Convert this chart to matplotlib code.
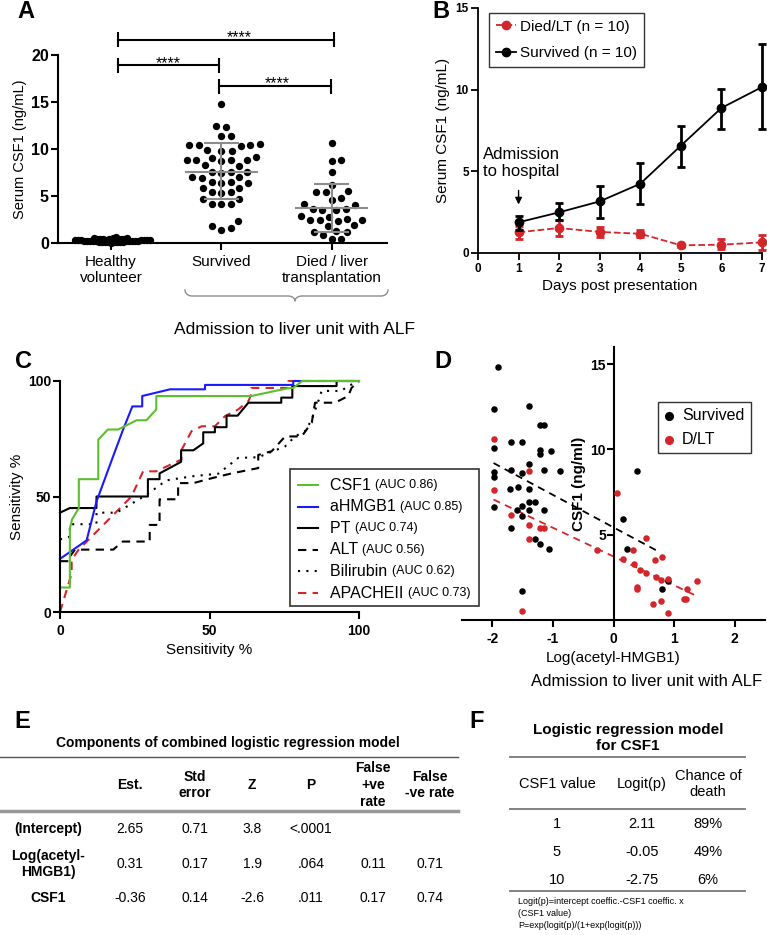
import numpy as np
import matplotlib
matplotlib.use("Agg")
import matplotlib.pyplot as plt
from matplotlib.patches import Rectangle

plt.rcParams["font.family"] = ["Liberation Sans", "DejaVu Sans"]

W, H = 767, 935
RED = "#d3262b"
GREEN = "#5cbf2e"
BLUE = "#1a1aff"
GREY = "#8c8c8c"

# ---- A: serum CSF1 at admission
groups_a = ["Healthy\nvolunteer", "Survived", "Died / liver\ntransplantation"]
healthy = [0.05, 0.08, 0.1, 0.1, 0.12, 0.12, 0.15, 0.15, 0.15, 0.18, 0.18, 0.2, 0.2,
           0.2, 0.22, 0.22, 0.25, 0.25, 0.25, 0.27, 0.28, 0.28, 0.3, 0.3, 0.3, 0.32,
           0.33, 0.35, 0.35, 0.36, 0.38, 0.4, 0.4, 0.42, 0.45, 0.45, 0.5, 0.5, 0.55, 0.6]
survived = [14.8, 12.5, 12.3, 11.4, 11.4, 10.5, 10.4, 10.4, 10.4, 10.3, 9.9, 9.8, 9.8,
            9.1, 9.0, 8.8, 8.8, 8.8, 8.8, 8.7, 8.3, 8.2, 7.6, 7.6, 7.6, 7.5, 7.0, 7.0,
            6.9, 6.5, 6.4, 6.4, 6.5, 5.9, 5.9, 5.4, 5.4, 5.3, 4.7, 4.7, 4.2, 4.2, 4.1,
            2.3, 1.8, 1.6, 1.4]
died = [10.6, 8.8, 8.7, 7.6, 6.2, 5.5, 5.4, 5.4, 4.8, 4.6, 4.1, 4.0, 3.6, 3.6, 3.5,
        3.5, 2.9, 2.8, 2.6, 2.5, 2.5, 2.4, 2.3, 1.9, 1.8, 1.3, 1.2, 1.2, 0.9, 0.4, 0.4]
mean_a = [7.6, 3.7]
sd_lo_a = [4.7, 1.2]
sd_hi_a = [10.6, 6.3]

# ---- B: time course
days = [1, 2, 3, 4, 5, 6, 7]
surv_mean = [1.88, 2.49, 3.16, 4.24, 6.57, 8.88, 10.16]
surv_lo = [1.43, 2.04, 2.14, 3.02, 5.27, 7.61, 7.59]
surv_hi = [2.24, 3.06, 4.12, 5.51, 7.80, 10.06, 12.82]
dlt_mean = [1.27, 1.53, 1.29, 1.18, 0.47, 0.51, 0.65]
dlt_lo = [0.86, 1.06, 0.98, 0.96, 0.38, 0.24, 0.20]
dlt_hi = [1.63, 2.00, 1.59, 1.43, 0.55, 0.86, 1.12]

# ---- C: ROC curves
roc_names = ["CSF1", "aHMGB1", "PT", "ALT", "Bilirubin", "APACHEII"]
roc_auc = ["(AUC 0.86)", "(AUC 0.85)", "(AUC 0.74)", "(AUC 0.56)", "(AUC 0.62)", "(AUC 0.73)"]
csf1_x = [0, 3.3, 3.3, 4, 6.3, 6.3, 12.8, 12.8, 16, 19.5, 25.6, 28.9, 32.2, 32.2, 64, 76, 78, 81, 100]
csf1_y = [10.6, 10.6, 36, 40, 45, 57.5, 57.5, 74.6, 79, 79, 83, 83, 87.7, 93.5, 93.5, 96.8, 97, 100, 100]
hmgb_x = [0, 8.9, 12.2, 18.4, 21.2, 24.2, 27.5, 27.5, 36.8, 48.5, 48.5, 78, 78, 100]
hmgb_y = [23, 31, 47.8, 69.6, 79.3, 89, 89, 93.5, 96.4, 96.4, 98.3, 98.3, 100, 100]
pt_x = [0, 3.3, 12.2, 12.2, 29.4, 29.4, 33.3, 33.3, 40.5, 40.5, 44.6, 47.9, 47.9, 51.8, 51.8,
        55.7, 55.7, 59.4, 63, 74, 74, 77.7, 77.7, 92.5, 92.5, 100]
pt_y = [43, 45, 45, 50, 50, 57.5, 57.5, 60, 65, 70, 70, 73, 77.8, 77.8, 80, 80, 85, 85, 90.6,
        90.6, 92.8, 92.8, 97.8, 97.8, 100, 100]
alt_x = [0, 3.3, 3.3, 5, 17.8, 21, 30, 30, 33.3, 33.3, 39.5, 39.5, 44.6, 51, 57.4, 66.3, 66.3,
         70.8, 75.3, 80.8, 84.2, 85.3, 92, 96.4, 97.5, 100]
alt_y = [22, 22, 24, 27, 27, 30.5, 30.5, 37.7, 37.7, 48.8, 48.8, 55.8, 55.8, 58, 60, 62.3, 68,
         69.6, 76, 76, 82, 90.6, 90.6, 93.5, 97, 100]
bili_x = [0, 3.3, 3.3, 12.2, 12.2, 18.9, 28.9, 35.6, 44, 53, 59.6, 66.3, 75.3, 78.6, 82, 84.2,
          86.4, 87.5, 94, 96.4, 100]
bili_y = [31.4, 32.6, 38, 38, 43, 43, 50.7, 57, 58.7, 59.9, 66.7, 67, 71.7, 76, 78.3, 83.3,
          91.3, 95.7, 95.7, 97.8, 100]
apache_x = [0, 3.9, 3.9, 6.1, 17.8, 23.9, 27.8, 32.2, 40.6, 40.7, 44, 47.4, 51.8, 55.2, 59.6,
            63, 64, 64, 76.4, 76.4, 100]
apache_y = [0, 16.7, 22.5, 26.8, 42, 50, 60.9, 60.9, 66, 70.3, 78.3, 80.4, 80.4, 84.8, 87.7,
            91.3, 94.2, 97, 97, 100, 100]

# ---- D: CSF1 vs log(acetyl-HMGB1)
d_surv_x = [-1.91, -1.98, -1.39, -1.98, -1.69, -1.51, -1.21, -1.14, -1.22, -1.21, -1.03, -1.98,
            -1.98, -1.69, -1.51, -1.39, -1.14, -0.89, -1.70, -1.58, -1.39, -1.98, -1.51, -1.59,
            -1.51, -1.39, -1.29, -1.39, -1.14, -1.69, -1.29, -1.21, -1.07, -1.51, 0.38, 0.15,
            0.23, 0.80, 0.90]
d_surv_y = [14.85, 12.34, 12.53, 10.1, 10.43, 10.43, 11.44, 11.44, 9.94, 9.7, 9.9, 8.67, 8.38,
            8.81, 8.6, 9.12, 8.81, 8.71, 7.7, 7.8, 7.7, 6.63, 6.69, 6.43, 6.1, 6.92, 6.92, 6.43,
            6.43, 5.42, 4.72, 4.44, 4.19, 1.71, 8.73, 5.9, 4.19, 1.81, 2.28]
d_dlt_x = [-1.98, -1.39, -1.98, -1.69, -1.39, -1.21, -1.14, -1.39, -0.27, 0.05, -1.51, 0.53,
           0.33, 0.15, 0.34, 0.68, 0.80, 0.44, 0.54, 0.70, 0.78, 0.90, 1.37, 1.22, 1.16, 1.19,
           0.38, 0.39, 0.65, 0.79, 0.90]
d_dlt_y = [10.6, 8.73, 7.64, 6.14, 5.56, 5.4, 5.4, 4.72, 4.13, 7.45, 0.55, 4.81, 4.09, 3.6,
           3.31, 3.51, 3.70, 2.92, 2.73, 2.5, 2.34, 2.4, 2.3, 1.81, 1.23, 1.23, 1.95, 1.8, 0.92,
           1.11, 0.39]
surv_fit_x = [-1.98, 0.75]
surv_fit_y = [9.2, 4.0]
dlt_fit_x = [-1.98, 1.34]
dlt_fit_y = [7.06, 1.46]

# ---- E / F tables
e_headers = ["Est.", "Std\nerror", "Z", "P", "False\n+ve\nrate", "False\n-ve rate"]
e_rows = ["(Intercept)", "Log(acetyl-\nHMGB1)", "CSF1"]
e_est = ["2.65", "0.31", "-0.36"]
e_se = ["0.71", "0.17", "0.14"]
e_z = ["3.8", "1.9", "-2.6"]
e_p = ["<.0001", ".064", ".011"]
e_fp = ["", "0.11", "0.17"]
e_fn = ["", "0.71", "0.74"]
f_headers = ["CSF1 value", "Logit(p)", "Chance of\ndeath"]
f_csf1 = ["1", "5", "10"]
f_logit = ["2.11", "-0.05", "-2.75"]
f_chance = ["89%", "49%", "6%"]


def px_axes(fig, left, top, right, bottom):
    ax = fig.add_axes([left / W, 1 - bottom / H, (right - left) / W, (bottom - top) / H])
    ax.patch.set_visible(False)
    return ax


def style(ax, lw=1.5, size=11):
    for s in ["top", "right"]:
        ax.spines[s].set_visible(False)
    for s in ["left", "bottom"]:
        ax.spines[s].set_linewidth(lw)
    ax.tick_params(width=lw, length=5, labelsize=size)
    ax.tick_params(axis="y", pad=1.5)


def swarm(values, dmin, sx, sy):
    # simple beeswarm in pixel space
    vals = np.asarray(values, float)
    offs = np.zeros(len(vals))
    placed = []
    cands = [0.0]
    for k in range(1, 200):
        cands += [k * 0.5, -k * 0.5]
    for i in np.argsort(vals):
        y = vals[i] * sy
        for c in cands:
            if all((c - px) ** 2 + (y - py) ** 2 >= dmin ** 2 for px, py in placed):
                break
        placed.append((c, y))
        offs[i] = c / sx
    return offs


fig = plt.figure(figsize=(W / 100, H / 100), dpi=100)
canvas = fig.add_axes([0, 0, 1, 1])
canvas.set_xlim(0, W)
canvas.set_ylim(H, 0)
canvas.axis("off")

# ---------------- A
axA = px_axes(fig, 58, 55, 387, 243)
axA.set_xlim(-0.48, 2.5)
axA.set_ylim(0, 20)
style(axA, size=11.5)
axA.set_yticks([0, 5, 10, 15, 20])
axA.set_yticklabels([0, 5, 10, 15, 20], fontweight="bold")
axA.set_xticks([0, 1, 2])
axA.set_xticklabels(groups_a, fontsize=11)
axA.set_ylabel("Serum CSF1 (ng/mL)", fontsize=10.5, labelpad=3)
sx, sy = 329 / 2.98, 188 / 20
for i, (vals, dmin) in enumerate([(healthy, 2.6), (survived, 9.5), (died, 9.5)]):
    axA.scatter(i + swarm(vals, dmin, sx, sy), vals, s=28, color="black", zorder=3,
                clip_on=False, linewidths=0)
for i in range(2):
    g = i + 1
    axA.hlines(mean_a[i], g - 0.33, g + 0.33, color=GREY, lw=1.5, zorder=4)
    axA.vlines(g, sd_lo_a[i], sd_hi_a[i], color=GREY, lw=1.5, zorder=4)
    axA.hlines([sd_lo_a[i], sd_hi_a[i]], g - 0.16, g + 0.16, color=GREY, lw=1.5, zorder=4)
for x1, x2, y, xs in [(0.066, 2.02, 21.6, 1.16), (0.066, 0.98, 18.9, 0.52), (0.98, 1.99, 16.7, 1.51)]:
    axA.plot([x1, x2], [y, y], color="black", lw=1.5, clip_on=False)
    axA.vlines([x1, x2], y - 0.8, y + 0.8, color="black", lw=1.5, clip_on=False)
    axA.text(xs, y - 0.25, "****", ha="center", va="baseline", fontsize=11.5)

# curly brace under Survived / Died
bx1, bx2, bm = 185, 388, 295
t = np.linspace(0, np.pi / 2, 10)
r = 7
left_end = np.c_[bx1 + r * (1 - np.cos(t)), 290 + 6 * np.sin(t)]
mid_l = np.c_[bm - r + r * np.sin(t), 296 + 5 * (1 - np.cos(t))]
mid_r = np.c_[2 * bm - mid_l[::-1, 0], mid_l[::-1, 1]]
right_end = np.c_[2 * bx2 - 2 * bx2 + bx2 - r * (1 - np.cos(t[::-1])), 290 + 6 * np.sin(t[::-1])]
brace = np.vstack([left_end, mid_l, mid_r, right_end])
canvas.plot(brace[:, 0], brace[:, 1], color=GREY, lw=1)
canvas.text(295, 330, "Admission to liver unit with ALF", ha="center", va="center", fontsize=12.5)

# ---------------- B
axB = px_axes(fig, 478, 8, 762, 253)
axB.set_xlim(0, 7)
axB.set_ylim(0, 15)
style(axB, lw=1.3, size=8.5)
axB.tick_params(axis="x", pad=2)
axB.set_xticks([0] + days)
axB.set_yticks([0, 5, 10, 15])
axB.set_yticklabels([0, 5, 10, 15], fontweight="bold")
axB.set_xticklabels([0] + days, fontweight="bold")
axB.set_ylabel("Serum CSF1 (ng/mL)", fontsize=11, labelpad=4)
axB.set_xlabel("Days post presentation", fontsize=11, labelpad=3)
m = np.array(dlt_mean)
axB.errorbar(days, m, yerr=[m - np.array(dlt_lo), np.array(dlt_hi) - m], fmt="none",
             ecolor=RED, elinewidth=2, capsize=3, capthick=2, clip_on=False)
axB.plot(days, dlt_mean, "--o", color=RED, lw=1.3, ms=6, label="Died/LT (n = 10)", clip_on=False)
m = np.array(surv_mean)
axB.errorbar(days, m, yerr=[m - np.array(surv_lo), np.array(surv_hi) - m], fmt="none",
             ecolor="black", elinewidth=2, capsize=3, capthick=2, clip_on=False)
axB.plot(days, surv_mean, "-o", color="black", lw=1.3, ms=6, label="Survived (n = 10)", clip_on=False)
leg = axB.legend(loc="upper left", bbox_to_anchor=(0.039, 0.98), borderaxespad=0, fontsize=11,
                 frameon=True, fancybox=False, edgecolor="black", handlelength=1.3,
                 handletextpad=0.3, borderpad=0.45, labelspacing=0.8)
leg.get_frame().set_linewidth(1.0)
axB.annotate("", xy=(1, 2.8), xytext=(1, 4.0),
             arrowprops=dict(arrowstyle="-|>", color="black", lw=1, mutation_scale=10))
axB.text(0.13, 5.5, "Admission\nto hospital", ha="left", va="center", fontsize=12, linespacing=1.15)

# ---------------- C
axC = px_axes(fig, 60, 381, 359, 612)
axC.set_xlim(0, 100)
axC.set_ylim(0, 100)
style(axC, size=10)
axC.set_xticks([0, 50, 100])
axC.set_yticks([0, 50, 100])
axC.set_xticklabels([0, 50, 100], fontweight="bold")
axC.set_yticklabels([0, 50, 100], fontweight="bold")
axC.set_xlabel("Sensitivity %", fontsize=11)
axC.set_ylabel("Sensitivity %", fontsize=11, labelpad=3)
roc_styles = [
    (csf1_x, csf1_y, dict(color=GREEN, ls="-")),
    (hmgb_x, hmgb_y, dict(color=BLUE, ls="-")),
    (pt_x, pt_y, dict(color="black", ls="-")),
    (alt_x, alt_y, dict(color="black", ls=(0, (4, 3)))),
    (bili_x, bili_y, dict(color="black", ls=(0, (1, 3)))),
    (apache_x, apache_y, dict(color=RED, ls=(0, (4, 3)))),
]
for xs, ys, kw in roc_styles[::-1]:
    axC.plot(xs, ys, lw=1.5, clip_on=False, **kw)
# legend box drawn by hand (two font sizes)
lx0, lx1 = (290 - 60) / 299, (479 - 60) / 299
ly0, ly1 = (612 - 606) / 231, (612 - 469) / 231
axC.add_patch(Rectangle((lx0, ly0), lx1 - lx0, ly1 - ly0, transform=axC.transAxes,
                        facecolor="white", edgecolor="#333333", lw=1.2, clip_on=False, zorder=5))
for k, (name, auc, (xs, ys, kw)) in enumerate(zip(roc_names, roc_auc, roc_styles)):
    yy = (612 - (485 + 21.6 * k)) / 231
    axC.plot([(298 - 60) / 299, (318 - 60) / 299], [yy, yy], transform=axC.transAxes, lw=1.5,
             clip_on=False, zorder=6, **kw)
    tx = axC.text((330 - 60) / 299, yy, name + " ", transform=axC.transAxes, va="center",
                  fontsize=11.5, zorder=6)
    axC.annotate(auc, xy=(1, 0.5), xycoords=tx, va="center", fontsize=9, zorder=6)

# ---------------- D
axD = px_axes(fig, 462, 347, 765, 620)
axD.set_xlim(-2.5, 2.5)
axD.set_ylim(0, 16)
style(axD, size=10)
axD.tick_params(axis="y", pad=0.5)
axD.spines["left"].set_position(("data", 0))
axD.set_xticks([-2, -1, 0, 1, 2])
axD.set_xticklabels([-2, -1, 0, 1, 2], fontweight="bold")
axD.set_yticks([5, 10, 15])
axD.set_yticklabels([5, 10, 15], fontweight="bold")
axD.set_xlabel("Log(acetyl-HMGB1)", fontsize=11)
axD.set_ylabel("CSF1 (ng/ml)", fontsize=11, fontweight="bold", labelpad=3)
axD.scatter(d_surv_x, d_surv_y, s=22, color="black", linewidths=0, label="Survived", zorder=3)
axD.scatter(d_dlt_x, d_dlt_y, s=22, color=RED, linewidths=0, label="D/LT", zorder=3)
axD.plot(surv_fit_x, surv_fit_y, ls=(0, (4, 3)), color="black", lw=1.3)
axD.plot(dlt_fit_x, dlt_fit_y, ls=(0, (4, 3)), color=RED, lw=1.3)
legD = axD.legend(loc="upper left", bbox_to_anchor=(0.647, 0.80), borderaxespad=0, fontsize=11.5,
                  frameon=True, fancybox=False, edgecolor="black", handlelength=0.6,
                  handletextpad=0.5, borderpad=0.4, labelspacing=0.55, markerscale=1.4)
legD.get_frame().set_linewidth(1.0)
canvas.text(647, 682, "Admission to liver unit with ALF", ha="center", va="center", fontsize=12)

# ---------------- panel letters
for letter, x, y in [("A", 26, 12), ("B", 441, 12), ("C", 23, 362), ("D", 443, 362),
                     ("E", 22, 722), ("F", 477, 722)]:
    canvas.text(x, y, letter, ha="center", va="center", fontsize=17, fontweight="bold")

# ---------------- E table
canvas.text(228, 743, "Components of combined logistic regression model", ha="center",
            va="center", fontsize=10, fontweight="bold")
canvas.plot([0, 458], [757, 757], color="#555555", lw=1)
canvas.plot([0, 458], [811, 811], color="#999999", lw=2.5)
e_cols = [130, 195, 252, 311, 373, 430]
for x, h in zip(e_cols, e_headers):
    canvas.text(x, 785, h, ha="center", va="center", fontsize=10, fontweight="bold",
                linespacing=1.25)
for y, name, *vals in zip([829, 864, 898], e_rows, e_est, e_se, e_z, e_p, e_fp, e_fn):
    canvas.text(48, y, name, ha="center", va="center", fontsize=10, fontweight="bold",
                linespacing=1.2)
    for x, v in zip(e_cols, vals):
        canvas.text(x, y, v, ha="center", va="center", fontsize=10)

# ---------------- F table
canvas.text(628, 738, "Logistic regression model\nfor CSF1", ha="center", va="center",
            fontsize=11, fontweight="bold", linespacing=1.15)
for y in [757, 809, 891]:
    canvas.plot([510, 745], [y, y], color="#777777", lw=1.3)
f_cols = [557, 642, 708]
for x, h in zip(f_cols, f_headers):
    canvas.text(x, 784, h, ha="center", va="center", fontsize=10.5, linespacing=1.15)
for y, a, b, c in zip([824, 852, 880], f_csf1, f_logit, f_chance):
    for x, v in zip(f_cols, [a, b, c]):
        canvas.text(x, y, v, ha="center", va="center", fontsize=10.5)
canvas.text(518, 897, "Logit(p)=intercept coeffic.-CSF1 coeffic. x\n(CSF1 value)\n"
            "P=exp(logit(p)/(1+exp(logit(p)))", ha="left", va="top", fontsize=6.5,
            linespacing=1.4)

fig.savefig("out.png", dpi=100)
